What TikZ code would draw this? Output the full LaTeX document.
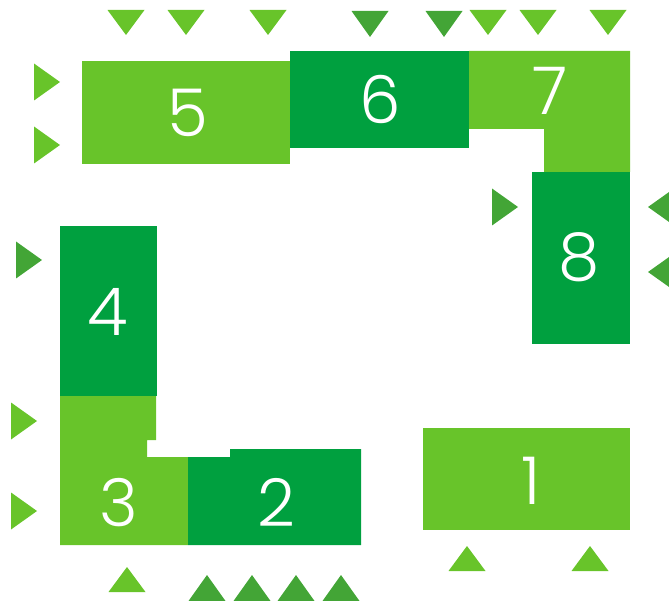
\documentclass[tikz,border=0pt]{standalone}
\usepackage{fontspec}
\setmainfont{Poppins}[UprightFont=* Light]
\definecolor{lightg}{HTML}{68C42A}
\definecolor{darkg}{HTML}{00A03F}
\definecolor{trig}{HTML}{43A536}
\tikzset{
  num/.style={text=white,font=\fontsize{66}{66}\selectfont,inner sep=0pt},
}
\newcommand{\tdown}[4]{\fill[#4] (#1-18.5,#2) -- (#1+18.5,#2) -- (#1,#3) -- cycle;}
\newcommand{\tup}[4]{\fill[#4] (#1-18.5,#2) -- (#1+18.5,#2) -- (#1,#3) -- cycle;}
\newcommand{\tside}[4]{\fill[#4] (#2,#1-18.5) -- (#2,#1+18.5) -- (#3,#1) -- cycle;}
\begin{document}
\begin{tikzpicture}[x=1pt,y=-1pt]
\useasboundingbox (0,0) rectangle (669,601);
% shapes
\fill[lightg] (82,61) rectangle (290,164);
\fill[darkg] (290,51) rectangle (469,148);
\fill[lightg] (469,51) -- (630,51) -- (630,172) -- (544,172) -- (544,129) -- (469,129) -- cycle;
\fill[darkg] (532,172) rectangle (630,344);
\fill[darkg] (60,226) rectangle (157,396);
\fill[lightg] (60,396) -- (156,396) -- (156,440) -- (147,440) -- (147,457) -- (188,457) -- (188,545) -- (60,545) -- cycle;
\fill[darkg] (188,457) -- (230,457) -- (230,449) -- (361,449) -- (361,545) -- (188,545) -- cycle;
\fill[lightg] (423,428) rectangle (630,530);
% labels
\node[num] (n5) at (188,113) {5};
\node[num] (n6) at (380,99) {6};
\node[num] (n7) at (550,91) {7};
\node[num] (n8) at (579,257) {8};
\node[num] (n4) at (108,311.5) {4};
\node[num] (n3) at (118.5,502.5) {3};
\node[num] (n2) at (276,502.5) {2};
\node[num] (n1) at (531,480.5) {1};
% top triangles (pointing down)
\foreach \x in {126,186,268,488,538,608} {\tdown{\x}{10}{35}{lightg}}
\foreach \x in {370,444} {\tdown{\x}{11}{37}{trig}}
% left triangles (pointing right)
\foreach \y in {82,145} {\tside{\y}{34}{60}{lightg}}
\tside{260}{16}{42}{trig}
\foreach \y in {421,511} {\tside{\y}{11}{37}{lightg}}
\tside{207}{492}{518}{trig}
% right triangles (pointing left)
\foreach \y in {207,272} {\tside{\y}{674}{648}{trig}}
% bottom triangles (pointing up)
\tup{127}{592}{567}{lightg}
\foreach \x in {207,252,296,341} {\tup{\x}{601}{575}{trig}}
\foreach \x in {467,590} {\tup{\x}{571}{546}{lightg}}
\end{tikzpicture}
\end{document}
